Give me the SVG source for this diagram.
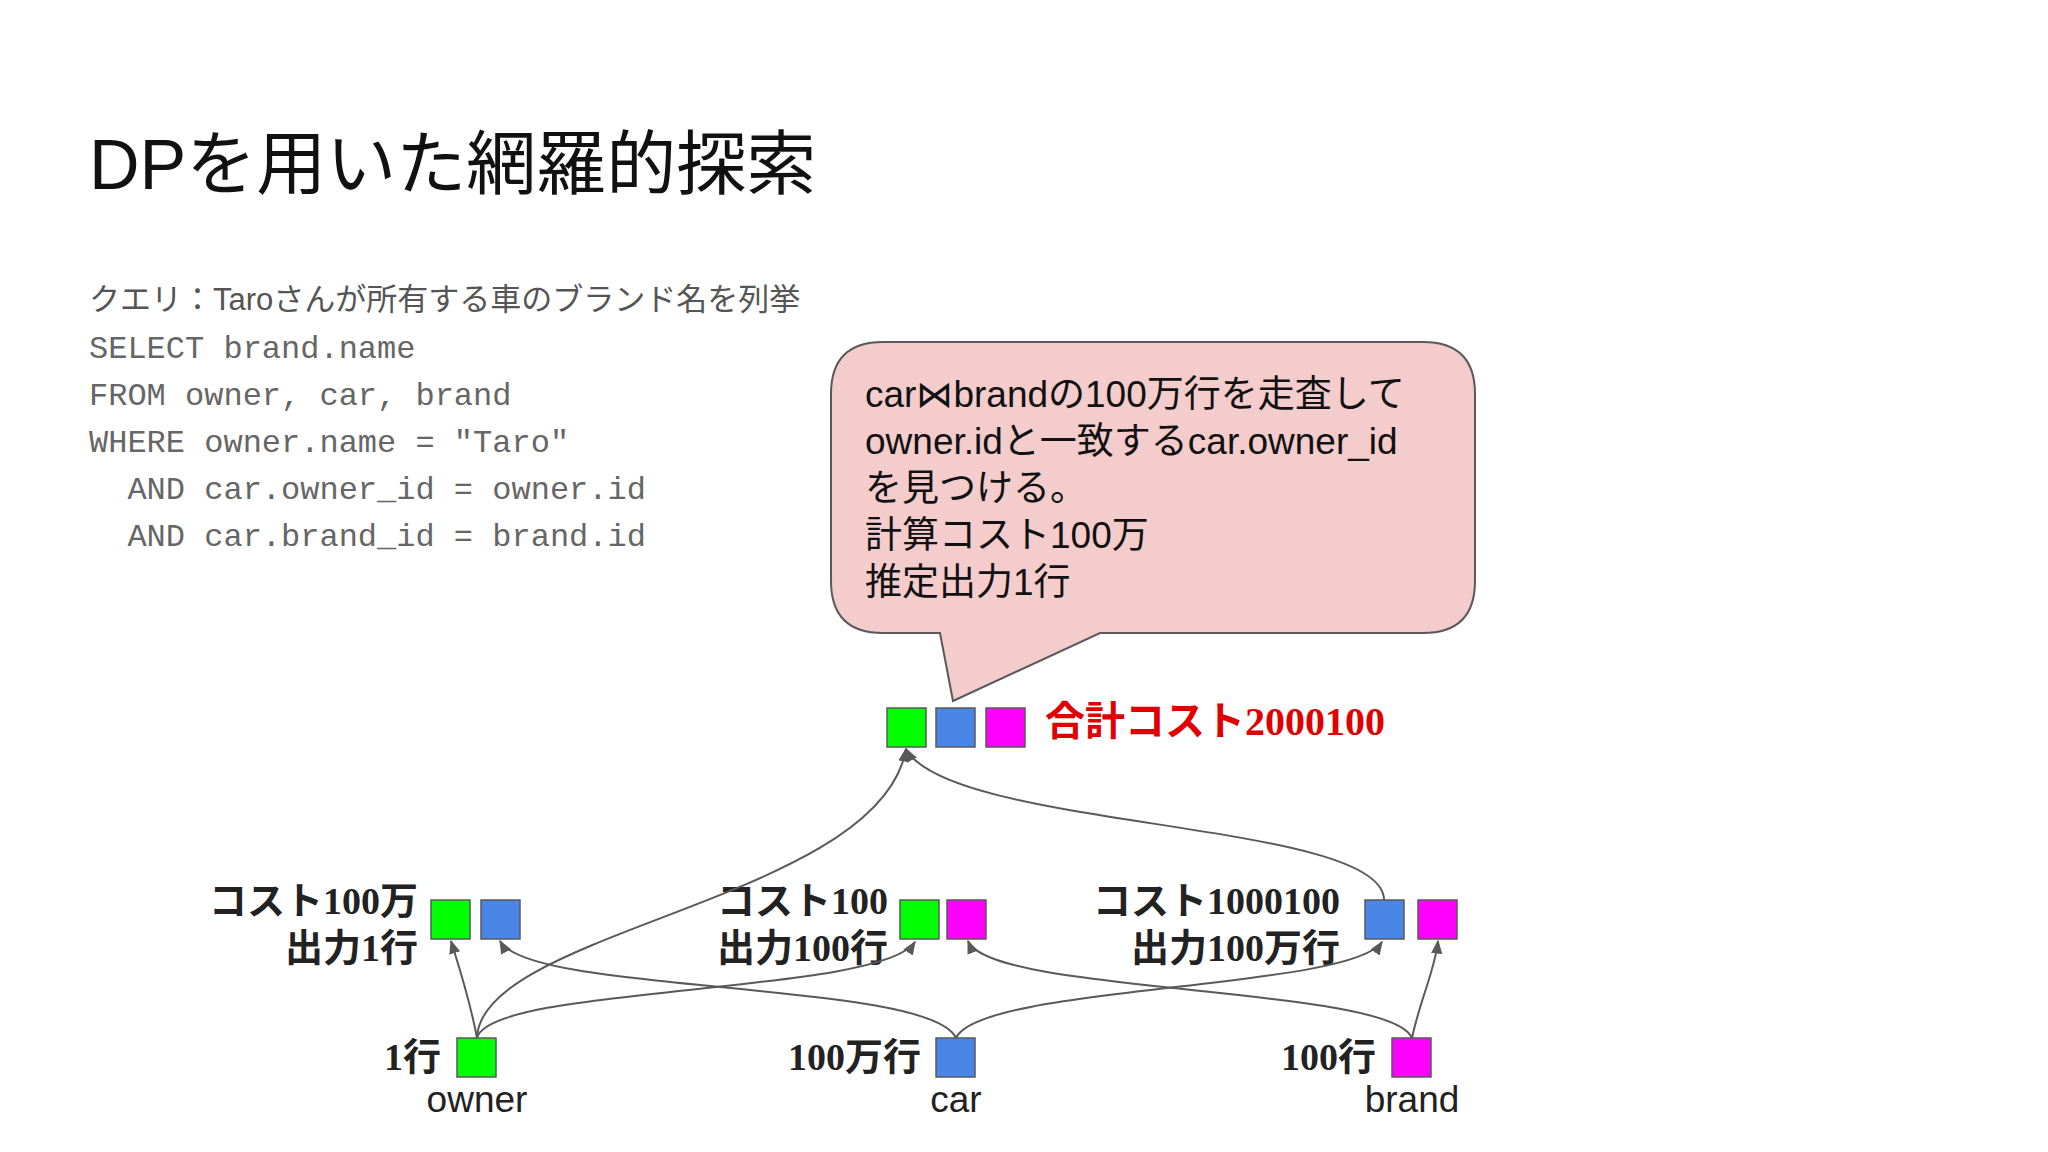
<svg xmlns="http://www.w3.org/2000/svg" width="2048" height="1152" viewBox="0 0 2048 1152">
<style>
.sq{stroke:#595959;stroke-width:1.5}
.g{fill:#00ff00}.b{fill:#4a86e8}.m{fill:#ff00ff}
.lbl{font-family:"Liberation Serif","Noto Sans CJK JP",serif;font-weight:bold;font-size:38px;fill:#222;text-anchor:end}
.nm{font-family:"Liberation Sans","Noto Sans CJK JP",sans-serif;font-size:37px;fill:#222;text-anchor:middle}
.code{font-family:"Liberation Mono",monospace;font-size:32px;fill:#666}
.bt{font-family:"Liberation Sans","Noto Sans CJK JP",sans-serif;font-size:37px;fill:#111}
.e{fill:none;stroke:#595959;stroke-width:2;marker-end:url(#ah)}
</style>
<defs><marker id="ah" viewBox="0 0 10 10" refX="9" refY="5" markerWidth="7" markerHeight="7" orient="auto"><path d="M0,1L10,5L0,9z" fill="#595959"/></marker></defs>
<rect width="2048" height="1152" fill="#fff"/>
<text x="89" y="189" font-family="Liberation Sans,Noto Sans CJK JP,sans-serif" font-size="70" fill="#111">DPを用いた網羅的探索</text>
<text x="89" y="310" font-family="Liberation Sans,Noto Sans CJK JP,sans-serif" font-size="31" fill="#555">クエリ：Taroさんが所有する車のブランド名を列挙</text>
<text class="code" x="89" y="358">SELECT brand.name</text>
<text class="code" x="89" y="405">FROM owner, car, brand</text>
<text class="code" x="89" y="452">WHERE owner.name = "Taro"</text>
<text class="code" x="89" y="499" xml:space="preserve">  AND car.owner_id = owner.id</text>
<text class="code" x="89" y="546" xml:space="preserve">  AND car.brand_id = brand.id</text>
<g id="bubble">
<path d="M883,342 H1423 Q1475,342 1475,394 V581 Q1475,633 1423,633 H1100 L953,701 L940,633 H883 Q831,633 831,581 V394 Q831,342 883,342 Z" fill="#f4cccc" stroke="#595959" stroke-width="2"/>
<text class="bt" x="865" y="407">car⋈brandの100万行を走査して</text>
<text class="bt" x="865" y="454">owner.idと一致するcar.owner_id</text>
<text class="bt" x="865" y="501">を見つける。</text>
<text class="bt" x="865" y="548">計算コスト100万</text>
<text class="bt" x="865" y="595">推定出力1行</text>
</g>
<g id="top">
<rect class="sq g" x="887" y="708" width="39" height="39"/><rect class="sq b" x="936" y="708" width="39" height="39"/><rect class="sq m" x="986" y="708" width="39" height="39"/>
<text x="1045" y="735" font-family="Liberation Serif,Noto Sans CJK JP,serif" font-weight="bold" font-size="40" fill="#e00000">合計コスト2000100</text>
</g>
<g id="ob">
<rect class="sq g" x="431" y="900" width="39" height="39"/><rect class="sq b" x="481" y="900" width="39" height="39"/>
<text class="lbl" x="418" y="914">コスト100万</text><text class="lbl" x="418" y="961">出力1行</text>
</g>
<g id="om">
<rect class="sq g" x="900" y="900" width="39" height="39"/><rect class="sq m" x="947" y="900" width="39" height="39"/>
<text class="lbl" x="888" y="914">コスト100</text><text class="lbl" x="888" y="961">出力100行</text>
</g>
<g id="bm">
<rect class="sq b" x="1365" y="900" width="39" height="39"/><rect class="sq m" x="1418" y="900" width="39" height="39"/>
<text class="lbl" x="1340" y="914">コスト1000100</text><text class="lbl" x="1340" y="961">出力100万行</text>
</g>
<g id="owner"><rect class="sq g" x="457" y="1038" width="39" height="39"/><text class="lbl" x="441" y="1070">1行</text><text class="nm" x="477" y="1112">owner</text></g>
<g id="car"><rect class="sq b" x="936" y="1038" width="39" height="39"/><text class="lbl" x="921" y="1070">100万行</text><text class="nm" x="956" y="1112">car</text></g>
<g id="brand"><rect class="sq m" x="1392" y="1038" width="39" height="39"/><text class="lbl" x="1376" y="1070">100行</text><text class="nm" x="1412" y="1112">brand</text></g>
<g id="edges">
<path class="e" d="M477,1038 C470,1000 460,970 451,941"/>
<path class="e" d="M477,1038 C490,985 880,995 915,942"/>
<path class="e" d="M477,1038 C480,930 880,900 906,749"/>
<path class="e" d="M956,1038 C930,980 530,995 500,941"/>
<path class="e" d="M956,1038 C980,985 1350,990 1382,942"/>
<path class="e" d="M1412,1038 C1390,985 990,995 968,941"/>
<path class="e" d="M1412,1038 C1420,1000 1435,970 1438,941"/>
<path class="e" d="M1384,900 C1384,820 950,830 906,749"/>
</g>
</svg>
